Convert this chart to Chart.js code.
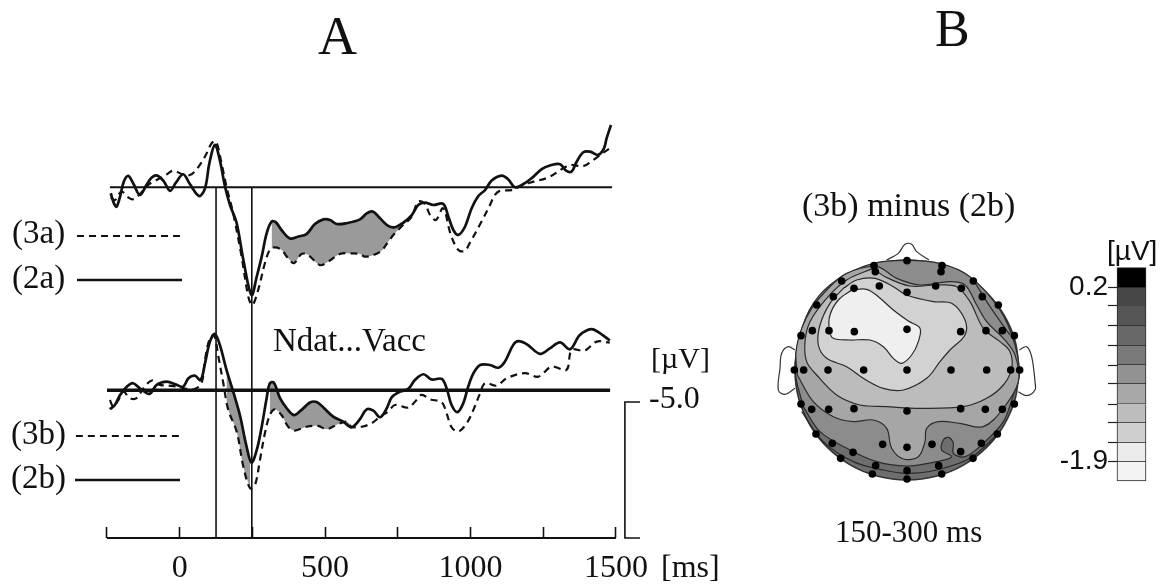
<!DOCTYPE html>
<html>
<head>
<meta charset="utf-8">
<title>Ndat...Vacc</title>
<style>
  html,body{margin:0;padding:0;background:#fff;}
  canvas{display:block;}
</style>
<script src="https://cdn.jsdelivr.net/npm/chart.js@4/dist/chart.umd.min.js"></script>
</head>
<body>
<canvas id="erp" width="1162" height="587"></canvas>
<script>
/* =====================
   ERP curves, panel A (ms / µV)
===================== */
const t2a = [-237,-226,-217,-205,-192,-177,-160,-137,-114,-96,-77,-54,-33,-13,12,35,67,87,102,121,138,156,173,196,219,247,265,282,299,316,331,350,379,408,436,465,494,517,540,574,620,643,664,689,717,740,769,798,820,843,872,906,924,941,958,981,1004,1027,1050,1073,1107,1130,1153,1182,1210,1245,1273,1308,1330,1348,1365,1388,1411,1439,1459,1468,1483];
const v2a = [.22,.59,.71,.34,-.21,-.42,-.15,.28,-.09,-.36,-.43,-.21,.13,-.17,-.48,-.12,.32,.04,-.88,-1.56,-1,-.02,.65,1.32,2.67,3.96,3.28,2.55,1.69,1.26,1.29,1.57,1.88,1.81,1.72,1.35,1.18,1.2,1.35,1.32,1.18,.96,.89,1.14,1.42,1.47,1.3,1.02,.65,.56,.65,.61,1.08,1.57,1.75,1.45,.77,.32,.1,-.25,-.43,-.29,0,-.12,-.33,-.67,-.8,-.85,-.6,-.58,-.94,-1.29,-1.31,-1.19,-1.43,-1.8,-2.29];

const t3a = [-237,-223,-200,-177,-160,-137,-108,-79,-51,-22,7,35,58,87,110,125,144,161,184,213,236,250,270,293,310,327,350,373,393,419,442,482,511,551,585,620,637,666,694,717,740,769,798,820,843,861,881,906,929,947,962,981,1000,1038,1067,1084,1101,1147,1164,1204,1267,1319,1342,1388,1422,1456,1483];
const v3a = [.37,.47,.16,.37,.44,.25,-.09,-.27,-.43,-.61,-.49,-.45,-.66,-1.13,-1.62,-1.68,-.88,-.02,.96,2.55,4.02,4.33,3.77,2.79,2.3,2.21,2.3,2.61,2.79,2.45,2.49,2.86,2.73,2.45,2.43,2.45,2.55,2.49,2.33,2,1.69,1.38,1.08,.53,.61,1.02,1.2,.77,1.63,2.12,2.33,2.33,2,1.26,.65,.28,.13,.1,0,-.17,-.36,-.7,-.82,-.78,-1,-1.27,-1.46];

/* =====================
   ERP curves, lower row
===================== */
const t2b = [-240,-223,-205,-182,-160,-137,-104,-79,-45,-10,12,30,52,72,87,104,121,138,161,184,207,230,247,265,282,299,310,324,345,368,393,419,448,471,494,528,562,591,618,643,666,689,712,729,758,786,809,838,866,901,918,935,955,975,992,1010,1033,1067,1096,1118,1147,1164,1193,1239,1273,1308,1342,1376,1416,1445,1479];
const v2b = [.7,.54,.17,-.13,-.26,-.07,.13,-.2,-.32,-.2,-.13,-.44,-.54,-.38,-.99,-1.79,-2.07,-1.67,-.75,.05,.91,2.07,2.66,2.19,1.34,.29,-.26,-.28,.29,.66,.91,.72,.45,.43,.63,.97,1.15,1.36,1.09,.7,.75,.99,.66,.26,.05,-.05,-.38,-.59,-.4,-.42,-.07,.54,.8,.48,-.13,-.62,-.93,-.93,-.83,-1.05,-1.67,-1.81,-1.7,-1.34,-1.54,-1.76,-1.51,-2.03,-2.25,-2.1,-1.83];

const t3b = [-240,-228,-211,-194,-171,-148,-125,-96,-68,-39,-8,24,52,75,87,102,118,133,150,167,196,219,242,259,276,293,310,327,350,373,396,436,476,505,540,574,591,626,660,689,717,740,786,809,832,861,901,918,935,958,987,1010,1033,1050,1090,1124,1187,1233,1279,1330,1348,1393,1434,1479];
const v3b = [.36,.6,.36,.05,.29,.29,-.07,-.36,-.2,-.17,-.13,-.05,-.05,-.26,-1.12,-1.85,-2.03,-1.24,-.26,.72,1.52,2.81,3.6,3.48,2.56,1.58,.91,.7,.91,1.34,1.48,1.34,1.31,1.43,1.27,1.15,1.34,1.34,1.21,.97,.78,.54,.64,.42,.17,.33,.44,.85,1.36,1.52,1.21,.72,.11,-.26,-.17,-.44,-.63,-.5,-.87,-.75,-1.48,-1.46,-1.79,-1.75];

const xTicks = [-250,0,250,500,750,1000,1250,1500];
const xTickLabels = {0:"0",500:"500",1000:"1000",1500:"1500"};
const markerTimes = [125,248];

/* =====================
   Head map, offsets from head centre
===================== */
const headX = [336,325,291,238,168,87,0,-87,-168,-238,-291,-325,-336,-325,-291,-238,-168,-87,0,87,168,238,291,325,336];
const headY = [0,85,165,233,286,319,330,319,286,233,165,85,0,-85,-165,-233,-286,-319,-330,-319,-286,-233,-165,-85,0];

const noseX = [-61,-26,-6,14,29,66];
const noseY = [330,350,377,377,355,330];
const earLX = [-336,-356,-376,-381,-386,-366,-336];
const earLY = [60,70,50,5,-60,-73,-55];
const earRX = [337,359,374,384,384,359,334];
const earRY = [60,70,40,-35,-60,-77,-65];

const outerX = [-311,-261,-171,-91,0,89,134,104,109,124,139,139,174,229,289,319,337,324,279,189,99,0,-101,-211,-281,-321,-335,-311];
const outerY = [-110,-185,-240,-275,-288,-275,-260,-240,-210,-202,-220,-250,-260,-220,-155,-75,-15,75,180,280,320,329,320,270,200,105,-5,-110];
const bulkX = [-329,-281,-221,-161,-101,-61,-46,-11,34,54,59,94,159,229,289,334,324,289,239,209,174,129,39,-31,-91,-181,-241,-286,-316,-333,-329];
const bulkY = [-15,-95,-140,-155,-150,-175,-235,-267,-260,-215,-175,-155,-160,-170,-115,-35,45,95,145,195,255,265,255,275,310,290,240,185,125,55,-15];
const midX = [-101,-66,9,89,149,189,229,279,309,314,289,239,169,39,-61,-141,-211,-271,-301,-306,-291,-241,-181,-101];
const midY = [305,280,252,255,250,205,125,85,55,5,-45,-85,-110,-115,-110,-105,-75,-15,25,85,145,215,270,305];
const lightX = [-191,-151,-96,-41,-1,79,134,174,174,129,99,59,-11,-71,-131,-181,-241,-266,-261,-231,-191];
const lightY = [245,270,275,250,225,205,200,150,105,60,25,-25,-60,-55,-25,10,35,75,135,200,245];
const whiteX = [-166,-121,-86,-41,4,39,34,14,-16,-41,-71,-111,-171,-221,-233,-231,-206,-166];
const whiteY = [240,242,220,180,147,125,85,45,20,35,70,90,90,95,120,165,210,240];
const ringX = [-316,-251,-161,-71,0,89,189,269];
const ringY = [-125,-215,-275,-300,-310,-300,-265,-195];
const edgeX = [199,249,309];
const edgeY = [270,190,105];

const electrodeX = [0,-99,-95,105,102,-196,199,-83,86,-159,163,0,-221,226,-271,274,-318,-284,-234,-158,0,161,237,286,322,-338,-310,-237,-130,0,132,239,311,338,-318,-286,-235,-159,0,161,235,286,322,-273,-224,-73,0,75,161,223,271,-162,-199,-94,95,198,-104,0,104,0];
const electrodeY = [328,313,295,313,295,267,267,252,252,245,245,233,220,220,195,195,103,118,118,115,122,115,118,118,103,0,0,0,0,0,0,0,0,0,-102,-118,-118,-116,-123,-116,-118,-118,-102,-192,-220,-223,-232,-223,-245,-220,-192,-247,-265,-287,-287,-265,-312,-302,-312,-327];

/* =====================
   Colour bar (µV)
===================== */
const barEdges = [.436,.2,-.025,-.266,-.503,-.736,-.961,-1.209,-1.434,-1.675,-1.9,-2.132];
const barShades = ["#000000","#474747","#555555","#686868","#7a7a7a","#929292","#a8a8a8","#bdbdbd","#cfcfcf","#ebebeb","#f3f3f3"];
const barTickLabels = {"0.2":"0.2","-1.9":"-1.9"};

const serif = "'Liberation Serif'";
const sans = "'Liberation Sans'";

function pairs(xs, ys){
  return xs.map((x,i)=>({x:x, y:ys[i]}));
}

function between(xs, ys, from, to){
  return pairs(xs,ys).filter(p=>p.x>=from && p.x<=to);
}

function curve(data, axis, dashed){
  return {
    data:data, yAxisID:axis, xAxisID:"x",
    borderColor:"#111", borderWidth:dashed?2.2:2.7,
    borderDash:dashed?[7,5]:[], pointRadius:0, tension:.35, fill:false
  };
}

function rule(xs, ys, axis, width, dash){
  return {
    data:pairs(xs,ys), yAxisID:axis, xAxisID:"x",
    borderColor:"#111", borderWidth:width, borderDash:dash||[],
    pointRadius:0, tension:0, fill:false
  };
}

function headLine(xs, ys, fillColor, color, width){
  return {
    data:pairs(xs,ys), yAxisID:"y2", xAxisID:"x2",
    borderColor:color||"#2b2b2b", borderWidth:width||1.2,
    regionFill:fillColor, pointRadius:0, tension:.35, fill:false
  };
}

function shade(upper, lower, axis){
  return [
    {data:upper, yAxisID:axis, xAxisID:"x", borderWidth:0, pointRadius:0, tension:.35,
     fill:"+1", backgroundColor:"#9a9a9a"},
    {data:lower, yAxisID:axis, xAxisID:"x", borderWidth:0, pointRadius:0, tension:.35, fill:false}
  ];
}

// labels near the edge of the scale must not shrink the plot area
function noPadding(scale){
  scale.paddingLeft = scale.paddingRight = scale.paddingTop = scale.paddingBottom = 0;
}

const datasets = [
  ...shade(between(t2a,v2a,300,800), between(t3a,v3a,300,800), "yA"),
  ...shade(between(t2b,v2b,150,255), between(t3b,v3b,150,255), "yB"),
  ...shade(between(t2b,v2b,299,592), between(t3b,v3b,299,592), "yB"),

  rule([-240,1487],[0,0],"yA",2),
  rule([-250,1480],[0,0],"yB",3.4),
  rule([markerTimes[0],markerTimes[0]],[0,12.89],"yA",1.6),
  rule([markerTimes[1],markerTimes[1]],[0,12.89],"yA",1.6),

  curve(pairs(t2a,v2a),"yA",false),
  curve(pairs(t3a,v3a),"yA",true),
  curve(pairs(t2b,v2b),"yB",false),
  curve(pairs(t3b,v3b),"yB",true),

  rule([-353,15],[1.79,1.79],"yA",1.8,[7,5]),
  rule([-353,8],[3.41,3.41],"yA",2.4),
  rule([-357,4],[1.68,1.68],"yB",1.8,[7,5]),
  rule([-360,1],[3.3,3.3],"yB",2.4),

  // time axis and calibration bar
  rule([-250,1500],[5.43,5.43],"yB",2),
  rule([1583,1531,1531,1583],[.43,.43,5.43,5.43],"yB",1.6),

  // head map
  headLine(noseX,noseY,null,"#333",1.2),
  headLine(earLX,earLY,null,"#333",1.2),
  headLine(earRX,earRY,null,"#333",1.2),
  headLine(headX,headY,"#6e6e6e","#333",1.6),
  headLine(outerX,outerY,"#8c8c8c"),
  headLine(bulkX,bulkY,"#a6a6a6"),
  headLine(midX,midY,"#bcbcbc"),
  headLine(lightX,lightY,"#d2d2d2"),
  headLine(whiteX,whiteY,"#efefef"),
  headLine(ringX,ringY,null),
  headLine(edgeX,edgeY,null),
  {
    data:pairs(electrodeX,electrodeY), yAxisID:"y2", xAxisID:"x2",
    showLine:false, pointRadius:3.8, pointBackgroundColor:"#000", pointBorderWidth:0
  },

  // colour bar, a fixed barThickness starts the bar at its x value
  {
    type:"bar", xAxisID:"x2", yAxisID:"yC",
    data:barShades.map((c,i)=>({x:630, y:[barEdges[i+1],barEdges[i]]})),
    backgroundColor:barShades, borderColor:"#2a2a2a", borderWidth:1,
    barThickness:29
  }
];

// later entries go on top
datasets.forEach((d,i)=>{ d.order = datasets.length - i; });

const figureText = {
  id:"figureText",
  afterDraw(chart){
    const c = chart.ctx;
    const put = (s,x,y,font)=>{
      c.font = font;
      c.fillText(s,x,y);
    };
    c.save();
    c.fillStyle = "#111";
    c.textAlign = "left";
    c.textBaseline = "alphabetic";
    put("A",318,54,"54px "+serif);
    put("B",935,46,"52px "+serif);
    put("(3a)",12,243,"33px "+serif);
    put("(2a)",12,288,"33px "+serif);
    put("(3b)",11,444,"33px "+serif);
    put("(2b)",11,488,"33px "+serif);
    put("Ndat...Vacc",273,351,"33px "+serif);
    put("[µV]",651,368,"30px "+serif);
    put("-5.0",649,408,"32px "+serif);
    put("[ms]",661,577,"32px "+serif);
    put("(3b) minus (2b)",802,216,"34px "+serif);
    put("150-300 ms",835,542,"31px "+serif);
    put("[µV]",1107,260,"28px "+sans);
    c.restore();
  }
};

const regionFill = {
  id:"regionFill",
  beforeDatasetDraw(chart,args){
    const d = chart.data.datasets[args.index];
    if(!d.regionFill) return;
    const line = args.meta.dataset, c = chart.ctx;
    line.updateControlPoints(chart.chartArea);
    c.save();
    c.fillStyle = d.regionFill;
    c.beginPath();
    line.path(c);
    c.closePath();
    c.fill();
    c.restore();
  }
};

new Chart(document.getElementById("erp"),{
  type:"line",
  data:{datasets:datasets},
  plugins:[regionFill,figureText],
  options:{
    responsive:false,
    animation:false,
    layout:{padding:0, autoPadding:false},
    plugins:{legend:{display:false},tooltip:{enabled:false}},
    scales:{
      x:{
        type:"linear", min:-617.9, max:3377.9,
        position:{yB:5.43},
        border:{display:false},
        grid:{drawOnChartArea:false, tickLength:-11, tickColor:"#111", tickWidth:1.6},
        afterBuildTicks:s=>{ s.ticks = xTicks.map(v=>({value:v})); },
        afterFit:noPadding,
        ticks:{
          autoSkip:false, maxRotation:0, minRotation:0, padding:22, color:"#111",
          font:{family:serif, size:32},
          callback:v=>xTickLabels[v] || ""
        }
      },
      yA:{type:"linear", reverse:true, min:-6.886, max:14.695, display:false},
      yB:{type:"linear", reverse:true, min:-14.349, max:7.232, display:false},
      x2:{type:"linear", min:-2721, max:765, display:false, offset:false, grid:{offset:false}},
      y2:{type:"linear", min:-651, max:1110, display:false},
      yC:{
        type:"linear", min:-3.409, max:3.659,
        position:{x2:603},
        border:{display:false},
        grid:{drawOnChartArea:false, tickLength:-9, tickColor:"#222", tickWidth:1.2},
        afterBuildTicks:s=>{ s.ticks = barEdges.slice(1,-1).map(v=>({value:v})); },
        afterFit:noPadding,
        ticks:{
          autoSkip:false, padding:0, color:"#111",
          font:{family:sans, size:28},
          callback:v=>barTickLabels[String(v)] || ""
        }
      }
    }
  }
});
</script>
</body>
</html>
